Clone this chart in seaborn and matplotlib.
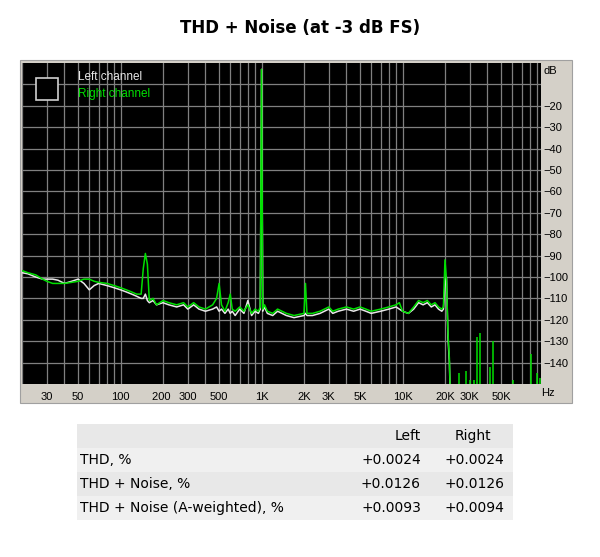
import matplotlib
matplotlib.use('Agg')
import matplotlib.pyplot as plt
import seaborn as sns
import pandas as pd
from matplotlib.patches import Rectangle

# spectrum (Hz, dB)
freq = [20, 22, 25, 28, 30, 33, 36, 40, 45, 50, 55, 60, 65, 70, 80, 90, 100, 110, 120, 130,
        140, 145, 150, 155, 160, 170, 180, 200, 220, 250, 280, 300, 330, 360, 400, 450, 480, 500,
        520, 550, 580, 600, 620, 650, 700, 750, 800, 850, 900, 950, 980, 1000, 1020, 1050, 1100,
        1200, 1300, 1500, 1700, 2000, 2050, 2100, 2300, 2600, 3000, 3200, 3500, 4000, 4500, 5000,
        5500, 6000, 7000, 8000, 9000, 9500, 10000, 11000, 12000, 13000, 14000, 15000, 16000,
        17000, 18000, 19000, 19500, 20000, 20500, 21000, 21500, 22000]
left_db = [-98, -98.5, -100, -101, -101, -101, -101.5, -103, -102, -101, -103, -106, -104, -103,
           -104, -105, -106, -107, -108, -109, -110, -110, -108, -111, -112, -111, -113, -112,
           -113, -114, -113, -115, -113, -115, -116, -115, -114, -116, -115, -117, -115, -117,
           -116, -118, -115, -117, -111, -118, -116, -117, -115, -3, -116, -114, -117, -118, -116,
           -118, -119, -118, -117, -118, -118, -117, -115, -117, -116, -115, -116, -115, -116,
           -117, -116, -115, -114, -115, -116, -117, -115, -112, -113, -112, -114, -113, -115,
           -116, -115, -104, -100, -128, -140, -165]
right_db = [-97, -98, -99, -101, -102, -103, -103, -103, -102.5, -102, -101, -101, -102, -102.5,
            -103, -104, -105, -106, -107, -108, -108, -96, -89, -94, -111, -110, -113, -111,
            -112, -113, -112, -114, -112, -114, -115, -113, -110, -103, -113, -116, -112, -108,
            -115, -116, -114, -116, -113, -117, -115, -116, -114, -3, -115, -113, -116, -117, -115,
            -117, -118, -117, -103, -117, -117, -116, -114, -116, -115, -114, -115, -114, -115,
            -116, -115, -114, -113, -112, -116, -117, -114, -111, -112, -111, -113, -112, -114,
            -115, -114, -92, -101, -126, -138, -165]
spike_freq = [25000, 28000, 30000, 32000, 33800, 35500, 42000, 44000, 61000, 81000, 90000, 95000]
spike_db = [-145, -144, -148, -148, -128, -126, -142, -130, -148, -136, -145, -147]

xtick_vals = [30, 50, 100, 200, 300, 500, 1000, 2000, 3000, 5000, 10000, 20000, 30000, 50000]
xtick_labels = ['30', '50', '100', '200 ', '300', '500', '1K', '2K', '3K', '5K', '10K', '20K', '30K', '50K']
ytick_vals = [-20, -30, -40, -50, -60, -70, -80, -90, -100, -110, -120, -130, -140]

table_cols = ['Left', 'Right']
table_rows = ['THD, %', 'THD + Noise, %', 'THD + Noise (A-weighted), %']
table_left = ['+0.0024', '+0.0126', '+0.0093']
table_right = ['+0.0024', '+0.0126', '+0.0094']

W, H = 600, 557
fig = plt.figure(figsize=(W / 100, H / 100), dpi=100)
fig.patch.set_facecolor('white')

# background axes in pixel coordinates (y down)
bg = fig.add_axes([0, 0, 1, 1], zorder=0)
bg.set_xlim(0, W)
bg.set_ylim(H, 0)
bg.axis('off')

bg.text(W / 2, 28, 'THD + Noise (at -3 dB FS)', ha='center', va='center',
        fontsize=12, fontweight='bold', family='DejaVu Sans')
bg.add_patch(Rectangle((20, 60), 552, 343, facecolor='#d4d0c8', edgecolor='#a0a0a0', lw=0.8))
bg.text(543, 71, 'dB', fontsize=8, family='Liberation Sans', va='center')
bg.text(541, 393, 'Hz', fontsize=8, family='Liberation Sans', va='center')

# results table
row_h = 24
top = 424
for i in range(4):
    color = '#e8e8e8' if i % 2 == 0 else '#f0f0f0'
    bg.add_patch(Rectangle((77, top + i * row_h), 436, row_h, facecolor=color, edgecolor='none'))
bg.text(421, top + 12, table_cols[0], ha='right', va='center', fontsize=10, family='DejaVu Sans')
bg.text(491, top + 12, table_cols[1], ha='right', va='center', fontsize=10, family='DejaVu Sans')
for i, (name, lv, rv) in enumerate(zip(table_rows, table_left, table_right)):
    yc = top + (i + 1) * row_h + 12
    bg.text(80, yc, name, ha='left', va='center', fontsize=10, family='DejaVu Sans')
    bg.text(421, yc, lv, ha='right', va='center', fontsize=10, family='DejaVu Sans')
    bg.text(504, yc, rv, ha='right', va='center', fontsize=10, family='DejaVu Sans')

ax = fig.add_axes([22 / W, 1 - 384 / H, 519 / W, 321 / H], zorder=2)
ax.set_facecolor('black')
ax.set_xscale('log')
ax.set_xlim(20, 96000)
ax.set_ylim(-150, 0)

grid_x = [m * 10 ** e for e in range(1, 5) for m in range(1, 10)]
grid_x = [g for g in grid_x if 20 <= g <= 96000]
for g in grid_x:
    ax.axvline(g, color='#808080', lw=0.9, zorder=1)
for g in range(-140, 0, 10):
    ax.axhline(g, color='#808080', lw=0.9, zorder=1)

df = pd.DataFrame({'freq': freq + freq, 'db': left_db + right_db,
                   'ch': ['L'] * len(freq) + ['R'] * len(freq)})
sns.lineplot(data=df, x='freq', y='db', hue='ch', palette={'L': '#e8e8e8', 'R': '#00e000'},
             estimator=None, sort=False, lw=1.1, legend=False, ax=ax, zorder=3)
ax.vlines(spike_freq, -160, spike_db, color='#00e000', lw=1.1, zorder=3)

ax.set_xticks(xtick_vals)
ax.set_xticklabels(xtick_labels)
ax.xaxis.set_minor_locator(matplotlib.ticker.NullLocator())
ax.set_yticks(ytick_vals)
ax.yaxis.tick_right()
ax.tick_params(length=0, labelsize=8, colors='black', pad=6)
ax.tick_params(axis='y', pad=2)
for t in ax.get_xticklabels() + ax.get_yticklabels():
    t.set_family('Liberation Sans')
ax.set_xlabel('')
ax.set_ylabel('')
for s in ax.spines.values():
    s.set_visible(False)

# legend inside plot
ax.add_patch(Rectangle((14 / 519, 1 - 37 / 321), 22 / 519, 22 / 321, transform=ax.transAxes,
                       facecolor='black', edgecolor='#d0d0d0', lw=1.2, zorder=5))
ax.text(56 / 519, 1 - 14 / 321, 'Left channel', color='#e8e8e8', fontsize=8.5,
        family='Liberation Sans', va='center', transform=ax.transAxes, zorder=6)
ax.text(56 / 519, 1 - 31 / 321, 'Right channel', color='#00e000', fontsize=8.5,
        family='Liberation Sans', va='center', transform=ax.transAxes, zorder=6)

fig.savefig('out.png', dpi=100)
